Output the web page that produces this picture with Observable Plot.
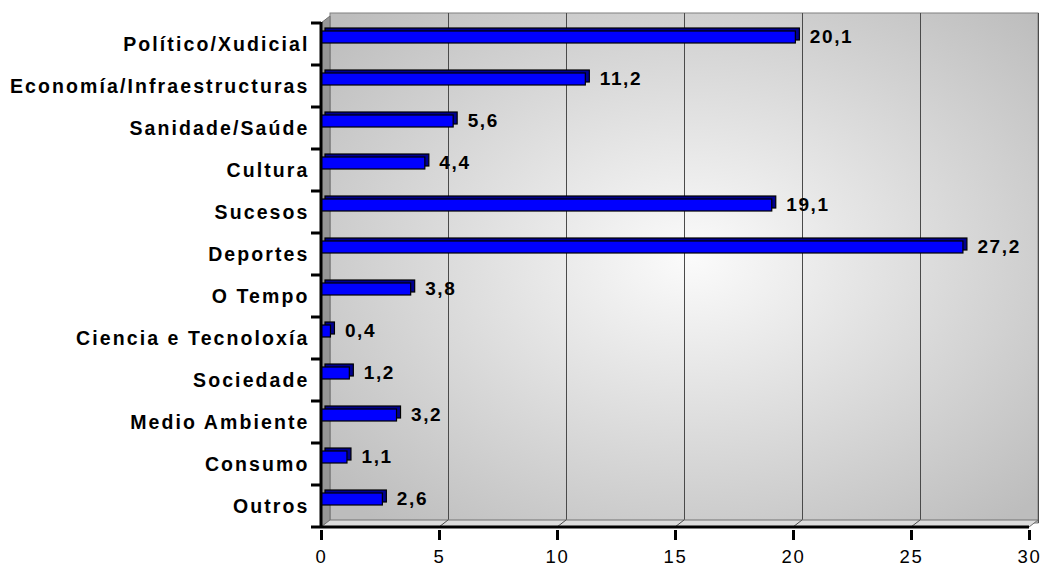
<!DOCTYPE html>
<html>
<head>
<meta charset="utf-8">
<script src="https://cdn.jsdelivr.net/npm/d3@7"></script>
<script src="https://cdn.jsdelivr.net/npm/@observablehq/plot@0.6"></script>
<style>
  html, body { margin: 0; padding: 0; background: white; }
</style>
</head>
<body>
<div id="chart"></div>
<script>
const categories = ["Político/Xudicial", "Economía/Infraestructuras", "Sanidade/Saúde", "Cultura", "Sucesos", "Deportes", "O Tempo", "Ciencia e Tecnoloxía", "Sociedade", "Medio Ambiente", "Consumo", "Outros"];
const values = [20.1, 11.2, 5.6, 4.4, 19.1, 27.2, 3.8, 0.4, 1.2, 3.2, 1.1, 2.6];
const xTicks = [0, 5, 10, 15, 20, 25, 30];

const data = categories.map((c, i) => ({category: c, value: values[i]}));
const DX = 9, DY = -7; // depth offset of the 3D walls

const plot = Plot.plot({
  width: 1042,
  height: 567,
  marginLeft: 321,
  marginRight: 13,
  marginTop: 20,
  marginBottom: 37,
  style: {fontFamily: "Arial, 'Liberation Sans', sans-serif", background: "white", letterSpacing: "1.6px", color: "black"},
  x: {domain: [0, 30], label: null},
  y: {domain: categories, padding: 0, label: null},
  marks: [
    Plot.rect([0], {x1: 0, x2: 30, dx: DX, dy: DY, fill: "url(#wallGrad)", stroke: "#808080"}),
    Plot.ruleX(xTicks.slice(1), {dx: DX, dy: DY, stroke: "#4a4a4a"}),
    Plot.barX(data, {x: "value", y: "category", dx: 4, dy: -3, insetTop: 8, insetBottom: 22, fill: "#000090", stroke: "black", strokeWidth: 1.2}),
    Plot.barX(data, {x: "value", y: "category", insetTop: 8, insetBottom: 22, fill: "#0000ff", stroke: "black", strokeWidth: 1.2}),
    Plot.text(data, {x: "value", y: "category", text: d => d.value.toFixed(1).replace(".", ","), dx: 14, dy: -8, textAnchor: "start", fontSize: 19, fontWeight: "bold", fill: "black"}),
    Plot.axisX({ticks: xTicks, tickSize: 10, tickPadding: 9, fontSize: 18.5, strokeWidth: 3, label: null, tickFormat: d => String(d)}),
    Plot.axisY({tickSize: 0, tickPadding: 12, fontSize: 19.5, fontWeight: "bold", label: null})
  ]
});

document.getElementById("chart").appendChild(plot);

// 3D decorations computed from Plot's own scales
const svg = d3.select(plot);
const xs = plot.scale("x"), ys = plot.scale("y");
const x0 = xs.apply(0), x30 = xs.apply(30);
const yTop = ys.apply(categories[0]);
const yBot = ys.apply(categories[categories.length - 1]) + ys.bandwidth;

const defs = svg.insert("defs", ":first-child");
const grad = defs.append("radialGradient").attr("id", "wallGrad")
  .attr("cx", 0.51).attr("cy", 0.48).attr("r", 0.68);
grad.append("stop").attr("offset", "0%").attr("stop-color", "#fbfbfb");
grad.append("stop").attr("offset", "100%").attr("stop-color", "#bdbdbd");

const under = svg.insert("g", "g[aria-label='bar']");
under.append("polygon")
  .attr("points", [[x0, yTop], [x0 + DX, yTop + DY], [x0 + DX, yBot + DY], [x0, yBot]].map(p => p.join(",")).join(" "))
  .attr("fill", "#969696").attr("stroke", "#707070");
under.append("polygon")
  .attr("points", [[x0, yBot], [x30, yBot], [x30 + DX, yBot + DY], [x0 + DX, yBot + DY]].map(p => p.join(",")).join(" "))
  .attr("fill", "#dcdcdc").attr("stroke", "#707070");
xTicks.slice(1, -1).forEach(t => {
  const xt = xs.apply(t);
  under.append("line").attr("x1", xt).attr("y1", yBot).attr("x2", xt + DX).attr("y2", yBot + DY).attr("stroke", "#4a4a4a");
});

// category labels: slightly wider tracking like the reference
svg.selectAll("g[aria-label='y-axis tick label'] text").style("letter-spacing", "2.1px");

const over = svg.append("g").attr("stroke", "black").attr("stroke-width", 3);
over.append("line").attr("x1", x0).attr("x2", x0).attr("y1", yTop - 1).attr("y2", yBot);
over.append("line").attr("x1", x0).attr("x2", x30).attr("y1", yBot).attr("y2", yBot);
categories.forEach(c => {
  const yy = ys.apply(c);
  over.append("line").attr("x1", x0 - 10).attr("x2", x0).attr("y1", yy).attr("y2", yy);
});
over.append("line").attr("x1", x0 - 10).attr("x2", x0).attr("y1", yBot).attr("y2", yBot);
</script>
</body>
</html>
